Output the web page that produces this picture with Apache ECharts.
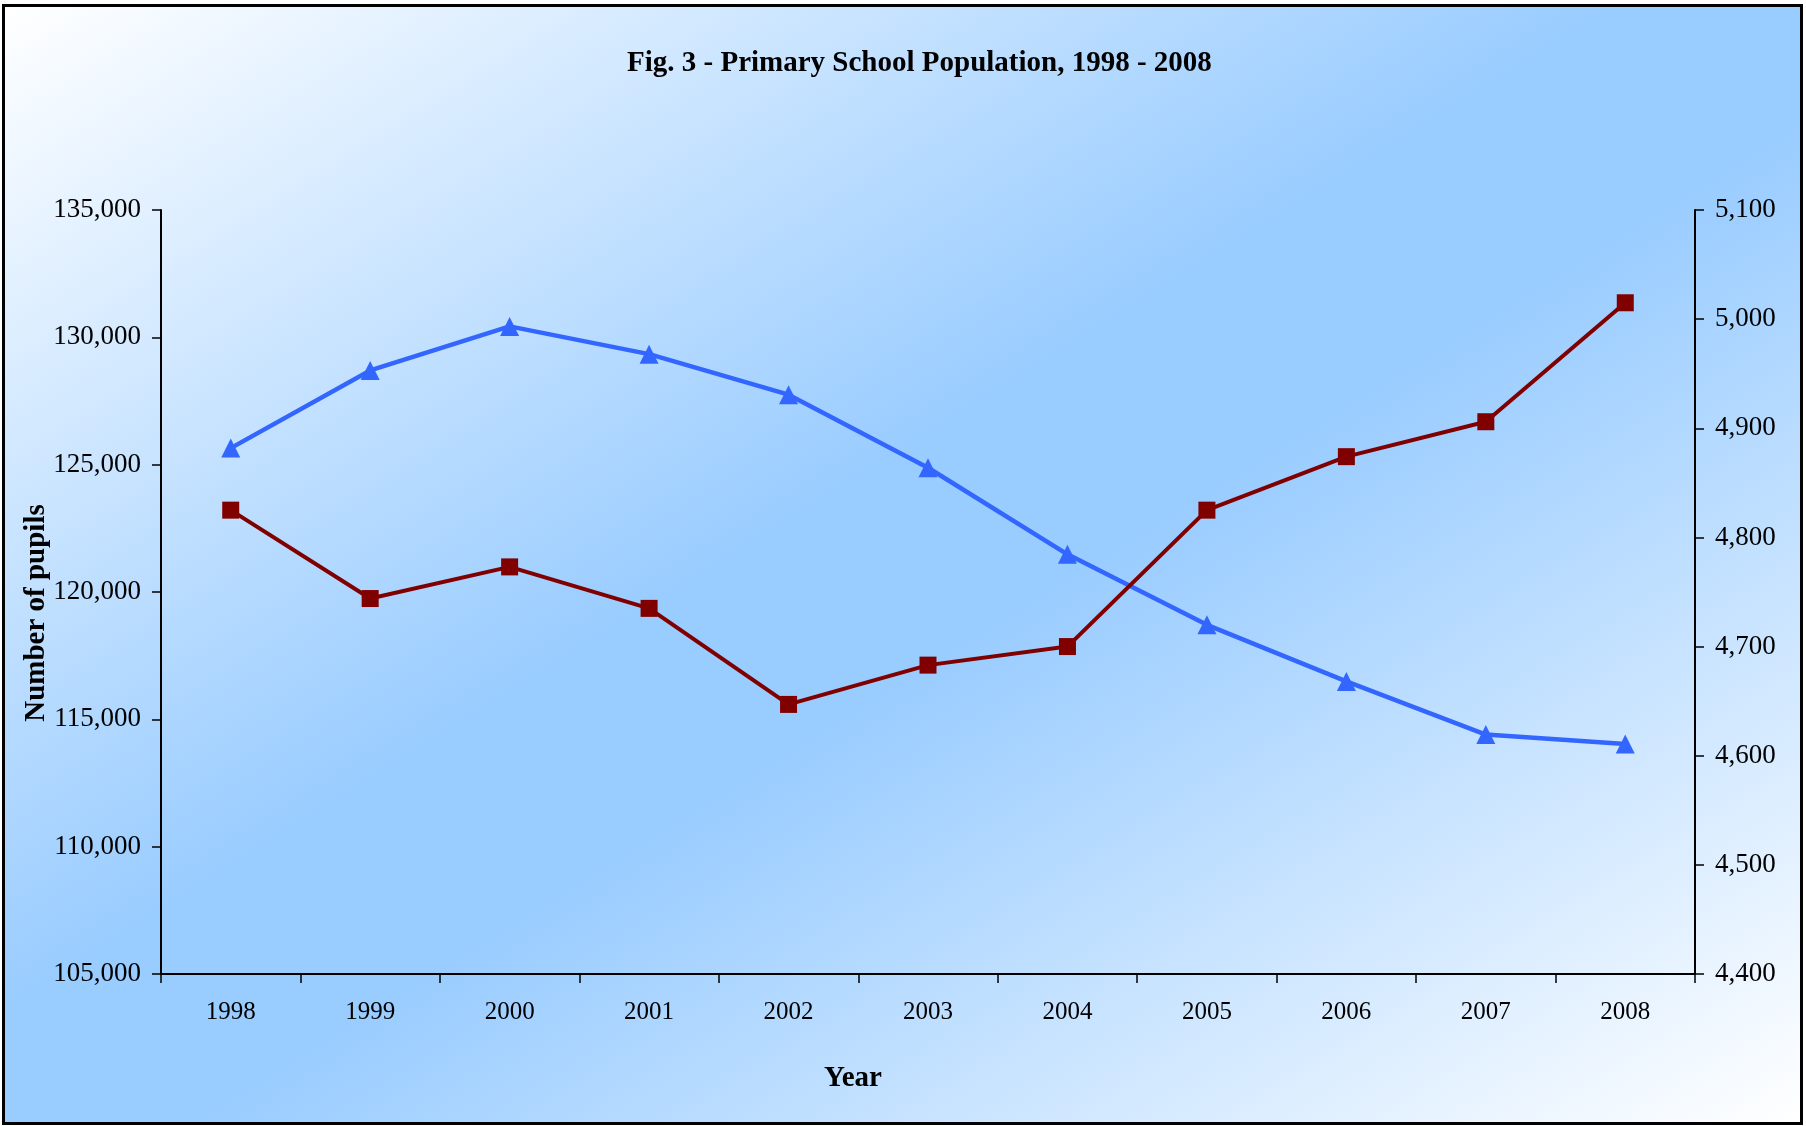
<!DOCTYPE html>
<html>
<head>
<meta charset="utf-8">
<script src="https://cdn.jsdelivr.net/npm/echarts@6/dist/echarts.min.js"></script>
<style>
  html, body { margin: 0; padding: 0; background: #fff; }
  #frame {
    position: absolute;
    left: 2px; top: 4px;
    width: 1801px; height: 1121px;
    box-sizing: border-box;
    border: 3px solid #000;
    background: linear-gradient(to bottom right, #ffffff 0%, #99ccff 45%, #99ccff 55%, #ffffff 100%);
  }
  #main { width: 1806px; height: 1126px; position: absolute; left: 0; top: 0; }
</style>
</head>
<body>
<div id="frame"></div>
<div id="main"></div>
<script>
  // data
  const years = ['1998', '1999', '2000', '2001', '2002', '2003', '2004', '2005', '2006', '2007', '2008']
  const pupils = [125650, 128700, 130430, 129340, 127750, 124880, 121480, 118710, 116490, 114400, 114030]
  const secondSeries = [4825, 4744, 4773, 4735, 4647, 4683, 4700, 4825, 4874, 4906, 5015]

  const fontFamily = '"Liberation Serif", "Times New Roman", serif'
  const fmt = (v) => v.toLocaleString('en-US')

  let myChart = echarts.init(document.getElementById('main'))
  let option = {
    backgroundColor: 'transparent',
    textStyle: { fontFamily: fontFamily, color: '#000' },
    animation: false,
    title: {
      text: 'Fig. 3 - Primary School Population, 1998 - 2008',
      left: 622,
      top: 44,
      textStyle: { fontFamily: fontFamily, fontSize: 29, fontWeight: 'bold', color: '#000' }
    },
    grid: { left: 161, right: 111, top: 210, bottom: 152 },
    xAxis: {
      type: 'category',
      data: years,
      boundaryGap: true,
      name: 'Year',
      nameLocation: 'middle',
      nameGap: 90,
      nameMoveOverlap: false,
      nameTextStyle: { fontFamily: fontFamily, fontSize: 29, fontWeight: 'bold', color: '#000', padding: [0, 150, 0, 0] },
      axisLine: { lineStyle: { color: '#000', width: 2 } },
      axisTick: { show: true, length: 9, lineStyle: { color: '#000', width: 1.5 } },
      axisLabel: { fontFamily: fontFamily, fontSize: 25, color: '#000', margin: 26 },
      splitLine: { show: false }
    },
    yAxis: [
      {
        type: 'value',
        min: 105000,
        max: 135000,
        interval: 5000,
        position: 'left',
        name: 'Number of pupils',
        nameLocation: 'middle',
        nameGap: 110,
        nameMoveOverlap: false,
        nameTextStyle: { fontFamily: fontFamily, fontSize: 29, fontWeight: 'bold', color: '#000', padding: [0, 42, 0, 0] },
        axisLine: { show: true, lineStyle: { color: '#000', width: 2 } },
        axisTick: { show: true, length: 9, lineStyle: { color: '#000', width: 1.5 } },
        axisLabel: { fontFamily: fontFamily, fontSize: 27, color: '#000', margin: 20, formatter: fmt },
        splitLine: { show: false }
      },
      {
        type: 'value',
        min: 4400,
        max: 5100,
        interval: 100,
        position: 'right',
        axisLine: { show: true, lineStyle: { color: '#000', width: 2 } },
        axisTick: { show: true, length: 9, lineStyle: { color: '#000', width: 1.5 } },
        axisLabel: { fontFamily: fontFamily, fontSize: 27, color: '#000', margin: 20, formatter: fmt },
        splitLine: { show: false }
      }
    ],
    series: [
      {
        name: 'Pupils',
        type: 'line',
        yAxisIndex: 0,
        data: pupils,
        symbol: 'triangle',
        symbolSize: 19,
        itemStyle: { color: '#3366ff' },
        lineStyle: { color: '#3366ff', width: 4.5 }
      },
      {
        name: 'Second series',
        type: 'line',
        yAxisIndex: 1,
        data: secondSeries,
        symbol: 'rect',
        symbolSize: 17,
        itemStyle: { color: '#800000' },
        lineStyle: { color: '#800000', width: 4 }
      }
    ]
  }
  myChart.setOption(option)
</script>
</body>
</html>
